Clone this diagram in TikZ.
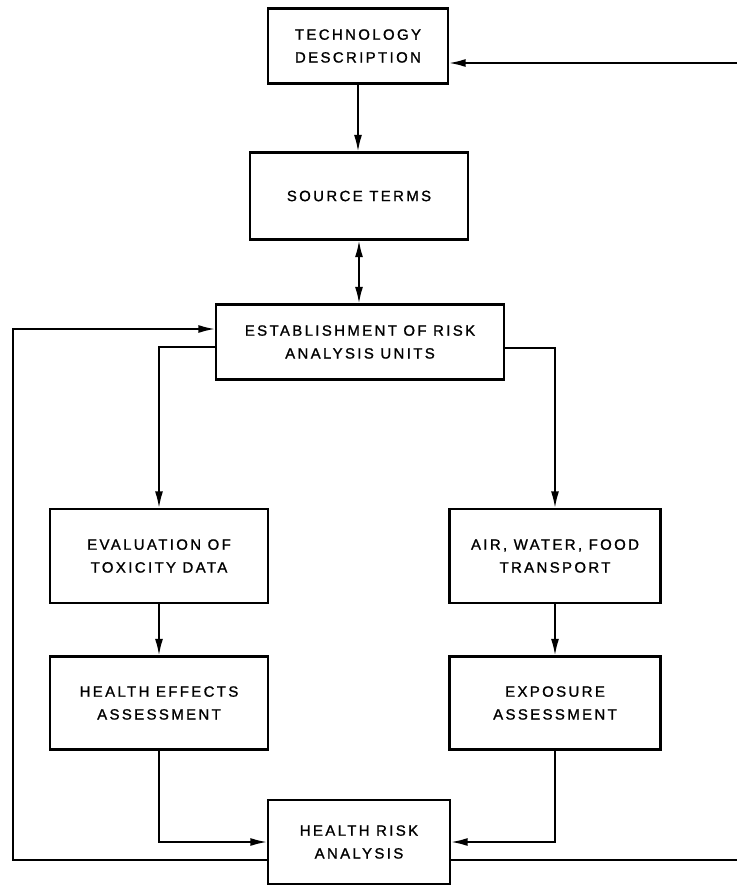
\documentclass[tikz,border=0pt]{standalone}
\usepackage{fontspec}
\newfontfamily\lblfont{Liberation Sans}[LetterSpace=16,FakeBold=1.2]
\usetikzlibrary{arrows.meta,calc}

\begin{document}
\begin{tikzpicture}[x=0.02cm,y=-0.02cm,
  box/.style={draw,line width=1.4pt,inner sep=0pt,outer sep=0pt,align=center,
    font=\lblfont\fontsize{8.5}{13}\selectfont},
  flow/.style={draw,line width=1.4pt,-{Latex[length=10pt,width=4.5pt]}}]
\useasboundingbox (0,0) rectangle (737,886);

\node[box,minimum width=3.6cm,minimum height=1.5cm] (tech) at (358,46) {TECHNOLOGY\\DESCRIPTION};
\node[box,minimum width=4.36cm,minimum height=1.74cm] (src) at (359,196) {SOURCE TERMS};
\node[box,minimum width=5.76cm,minimum height=1.5cm] (rau) at (360,342) {ESTABLISHMENT OF RISK\\ANALYSIS UNITS};
\node[box,minimum width=4.36cm,minimum height=1.88cm] (tox) at (159,556) {EVALUATION OF\\TOXICITY DATA};
\node[box,minimum width=4.22cm,minimum height=1.88cm] (trans) at (555,556) {AIR, WATER, FOOD\\TRANSPORT};
\node[box,minimum width=4.36cm,minimum height=1.86cm] (hea) at (159,703) {HEALTH EFFECTS\\ASSESSMENT};
\node[box,minimum width=4.22cm,minimum height=1.86cm] (expo) at (555,703) {EXPOSURE\\ASSESSMENT};
\node[box,minimum width=3.64cm,minimum height=1.68cm] (hra) at (359,842) {HEALTH RISK\\ANALYSIS};

\path[flow] (tech.south) -- (tech.south |- src.north);
\path[flow,{Latex[length=10pt,width=4.5pt]}-{Latex[length=10pt,width=4.5pt]}] (src.south) -- (src.south |- rau.north);
\path[flow] ($(rau.west)+(0,5)$) -| (tox.north);
\path[flow] ($(rau.east)+(0,6)$) -| (trans.north);
\path[flow] (tox) -- (hea);
\path[flow] (trans) -- (expo);
\path[flow] (hea.south) |- (hra.west);
\path[flow] (expo.south) |- (hra.east);

% feedback loops
\path[flow] ($(hra.west)+(0,18)$) -| (13,329) -- ($(rau.west)+(0,-13)$);
\path[flow] ($(hra.east)+(0,18)$) -| (770,63) -- ($(tech.east)+(0,17)$);
\end{tikzpicture}
\end{document}
